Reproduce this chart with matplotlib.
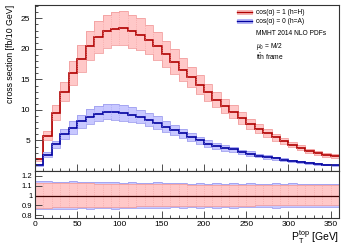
import numpy as np
import matplotlib.pyplot as plt
from matplotlib.patches import Patch
from matplotlib.lines import Line2D
from matplotlib.ticker import MultipleLocator

plt.rcParams['font.family'] = ['Liberation Sans', 'DejaVu Sans']
plt.rcParams['mathtext.fontset'] = 'custom'
plt.rcParams['mathtext.rm'] = 'Liberation Sans'
plt.rcParams['mathtext.it'] = 'Liberation Sans:italic'

# pT bins [GeV]
edges = np.arange(0, 370, 10)

# central values [fb/10 GeV]
xs_H = [1.9, 5.8, 9.5, 13.0, 16.0, 18.4, 20.45, 21.9, 22.85, 23.3,
        23.35, 22.85, 22.3, 21.5, 20.4, 19.15, 17.85, 16.6, 15.4, 14.1,
        12.9, 11.7, 10.6, 9.7, 8.65, 7.7, 6.9, 6.25, 5.55, 4.9,
        4.3, 3.8, 3.3, 3.0, 2.6, 2.45]
xs_A = [1.0, 2.7, 4.35, 6.0, 7.1, 8.15, 8.9, 9.35, 9.7, 9.65,
        9.5, 9.25, 8.9, 8.4, 7.9, 7.25, 6.65, 6.15, 5.55, 5.0,
        4.5, 4.1, 3.8, 3.55, 3.15, 2.85, 2.5, 2.3, 2.05, 1.85,
        1.65, 1.4, 1.25, 1.15, 1.05, 0.95]

# relative scale uncertainty (ratio to central)
H_up = [1.13, 1.13, 1.13, 1.125, 1.125, 1.125, 1.125, 1.12, 1.12, 1.12,
        1.12, 1.12, 1.12, 1.115, 1.115, 1.115, 1.115, 1.115, 1.11, 1.11,
        1.11, 1.11, 1.11, 1.11, 1.11, 1.11, 1.11, 1.11, 1.105, 1.105,
        1.105, 1.105, 1.105, 1.105, 1.105, 1.105]
H_dn = [0.875, 0.875, 0.88, 0.88, 0.88, 0.88, 0.885, 0.885, 0.885, 0.885,
        0.885, 0.885, 0.89, 0.89, 0.89, 0.89, 0.89, 0.89, 0.895, 0.895,
        0.895, 0.895, 0.895, 0.895, 0.895, 0.895, 0.9, 0.9, 0.9, 0.9,
        0.9, 0.9, 0.9, 0.9, 0.9, 0.9]
A_up = [1.145, 1.15, 1.14, 1.14, 1.145, 1.135, 1.14, 1.135, 1.135, 1.14,
        1.13, 1.135, 1.13, 1.125, 1.135, 1.13, 1.125, 1.13, 1.12, 1.125,
        1.12, 1.13, 1.12, 1.125, 1.115, 1.125, 1.12, 1.115, 1.125, 1.12,
        1.13, 1.115, 1.12, 1.12, 1.115, 1.12]
A_dn = [0.86, 0.86, 0.865, 0.865, 0.86, 0.87, 0.865, 0.87, 0.87, 0.865,
        0.87, 0.87, 0.875, 0.875, 0.87, 0.875, 0.88, 0.875, 0.88, 0.875,
        0.88, 0.875, 0.88, 0.875, 0.885, 0.88, 0.885, 0.88, 0.875, 0.885,
        0.885, 0.88, 0.885, 0.88, 0.885, 0.885]

red_line, red_fill, red_edge = '#b00000', '#ffc8c8', '#f2a0a0'
blue_line, blue_fill, blue_edge = '#0000a0', '#c8c8ff', '#a0a0f0'

fig = plt.figure(figsize=(3.5, 2.45), dpi=100)
ax = fig.add_axes([0.1, 0.302, 0.869, 0.678])
rax = fig.add_axes([0.1, 0.110, 0.869, 0.192], sharex=ax)


def draw_band(a, cen, up, dn, fill, edge, line):
    cen = np.array(cen)
    hi = cen * np.array(up)
    lo = cen * np.array(dn)
    a.stairs(hi, edges, baseline=lo, fill=True, color=fill, lw=0)
    a.stairs(hi, edges, color=edge, lw=0.6)
    a.stairs(lo, edges, color=edge, lw=0.6)
    a.vlines(edges[1:-1], lo[1:], hi[1:], colors=edge, lw=0.5, linestyles=':')
    a.stairs(cen, edges, color=line, lw=1.2, baseline=None)


draw_band(ax, xs_H, H_up, H_dn, red_fill, red_edge, red_line)
draw_band(ax, xs_A, A_up, A_dn, blue_fill, blue_edge, blue_line)

# ratio panel
rax.stairs(A_up, edges, baseline=A_dn, fill=True, color=blue_fill, lw=0)
rax.stairs(A_up, edges, color=blue_edge, lw=0.6)
rax.stairs(A_dn, edges, color=blue_edge, lw=0.6)
rax.stairs(H_up, edges, baseline=H_dn, fill=True, color=red_fill, lw=0)
rax.stairs(H_up, edges, color=red_edge, lw=0.6)
rax.stairs(H_dn, edges, color=red_edge, lw=0.6)
rax.vlines(edges[1:-1], np.array(H_dn)[1:], np.array(H_up)[1:], colors=red_edge, lw=0.5, linestyles=':')
rax.axhline(1.0, color='#400000', lw=0.9)

ax.set_xlim(0, 360)
ax.set_ylim(0, 27.2)
rax.set_ylim(0.77, 1.25)

for a in (ax, rax):
    a.tick_params(direction='in', which='both', labelsize=6, colors='#333333', width=0.6)
    a.tick_params(which='major', length=5)
    a.tick_params(which='minor', length=2.5)
    for s in a.spines.values():
        s.set_color('#333333')
        s.set_linewidth(0.8)
    a.xaxis.set_major_locator(MultipleLocator(50))
    a.xaxis.set_minor_locator(MultipleLocator(10))
    a.tick_params(labelcolor='black')

ax.set_yticks([5, 10, 15, 20, 25])
ax.yaxis.set_minor_locator(MultipleLocator(1))
ax.tick_params(labelbottom=False)
rax.set_yticks([0.8, 0.9, 1.0, 1.1, 1.2])
rax.set_yticklabels(['0.8', '0.9', '1', '1.1', '1.2'])
rax.tick_params(axis='y', labelsize=5.5, pad=2)
rax.tick_params(axis='x', pad=2)

ax.set_ylabel('cross section [fb/10 GeV]', fontsize=6.3, loc='top')
ax.yaxis.set_label_coords(-0.066, 1.0)
rax.set_xlabel(r'P$_\mathrm{T}^\mathrm{top}$ [GeV]', fontsize=7.5, loc='right', labelpad=0)

handles = [(Patch(facecolor=red_fill, edgecolor=red_edge, lw=0.5), Line2D([], [], color=red_line, lw=1.0)),
           (Patch(facecolor=blue_fill, edgecolor=blue_edge, lw=0.5), Line2D([], [], color=blue_line, lw=1.0))]
labels = ['cos(\u03b1) = 1 (h=H)', 'cos(\u03b1) = 0 (h=A)']
ax.legend(handles, labels, loc='upper left', bbox_to_anchor=(0.665, 0.975), frameon=False,
          fontsize=4.8, handlelength=2.2, handleheight=0.6, labelspacing=0.3, handletextpad=0.6,
          borderaxespad=0, borderpad=0)

ax.text(0.725, 0.83, 'MMHT 2014 NLO PDFs', transform=ax.transAxes, fontsize=4.8, va='center')
ax.text(0.725, 0.752, r'$\mu_0$ = M/2', transform=ax.transAxes, fontsize=4.8, va='center')
ax.text(0.725, 0.686, r't$\bar{\mathrm{t}}$h frame', transform=ax.transAxes, fontsize=4.8, va='center')

fig.savefig('out.png', dpi=100)
